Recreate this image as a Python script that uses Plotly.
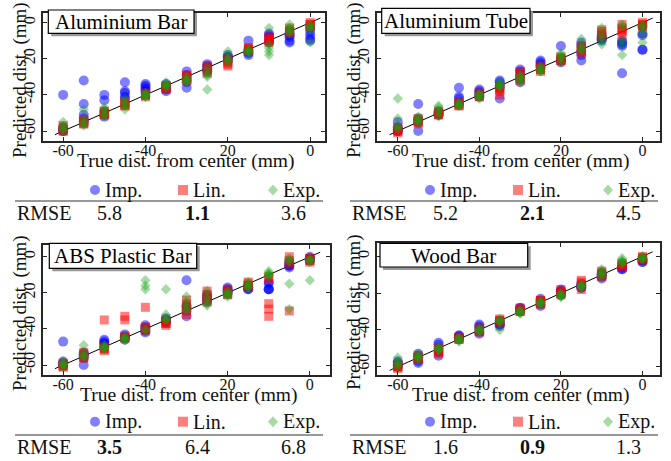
import plotly.graph_objects as go

# ---------------- data ----------------
positions = [-60, -55, -50, -45, -40, -35, -30, -25, -20, -15, -10, -5, 0]
x_tick_vals = [-60, -40, -20, 0]
x_tick_text = ["-60", "-40", "20", "0"]
y_tick_vals = [-60, -40, -20, 0]
y_tick_text = ["-60", "-40", "20", "0"]
method_names = ["Imp.", "Lin.", "Exp."]
panel_titles = ["Aluminium Bar", "Aluminium Tube", "ABS Plastic Bar", "Wood Bar"]
rmse_values = [["5.8", "1.1", "3.6"], ["5.2", "2.1", "4.5"],
               ["3.5", "6.4", "6.8"], ["1.6", "0.9", "1.3"]]
best_method = [1, 1, 0, 1]
ref_line = [-62, 2.5]

# Aluminium Bar
alu_bar_imp = [[-40, -58, -59, -60, -60], [-32, -45, -51, -53, -55], [-40, -43, -49, -51, -52],
               [-33, -38, -39, -41, -42], [-34, -35, -36, -37, -38], [-34, -35, -36, -37, -38],
               [-27, -29, -31, -33, -36], [-23, -24, -25, -26, -27], [-18, -19, -19, -20, -21],
               [-10, -15, -16, -17, -18], [-6, -7, -8, -10, -11], [-6, -7, -8, -10, -11],
               [-3, -5, -7, -9, -10]]
alu_bar_lin = [[-57, -58, -59, -60, -60], [-54, -55, -55, -56, -56], [-49, -50, -50, -51, -51],
               [-44, -45, -45, -46, -46], [-39, -40, -40, -40, -41], [-35, -35, -36, -36, -37],
               [-29, -30, -30, -31, -32], [-24, -25, -26, -27, -28], [-20, -21, -22, -23, -24],
               [-14, -14, -15, -15, -16], [-8, -9, -10, -10, -11], [-3, -4, -5, -5, -6],
               [0, -1, -1, -2, -2]]
alu_bar_exp = [[-55, -57, -58, -59, -60], [-48, -53, -55, -56, -57], [-47, -48, -50, -51, -52],
               [-42, -44, -45, -46, -48], [-39, -39, -40, -41, -41], [-33, -34, -35, -35, -36],
               [-30, -31, -32, -32, -33], [-25, -27, -29, -30, -37], [-16, -18, -20, -21, -22],
               [-15, -15, -16, -16, -17], [-3, -12, -14, -16, -18], [-1, -3, -4, -5, -6],
               [-1, -2, -3, -4, -11]]

# Aluminium Tube
alu_tube_imp = [[-55, -58, -59, -60, -60], [-45, -53, -54, -55, -60], [-49, -50, -50, -51, -51],
                [-36, -41, -42, -44, -45], [-37, -38, -39, -40, -41], [-32, -33, -35, -36, -42],
                [-26, -27, -29, -31, -33], [-21, -22, -23, -24, -25], [-13, -20, -21, -21, -22],
                [-11, -13, -16, -18, -21], [-7, -8, -9, -9, -10], [-10, -11, -12, -13, -28],
                [-2, -6, -7, -15, -15]]
alu_tube_lin = [[-58, -59, -60, -60, -61], [-53, -54, -55, -55, -56], [-49, -50, -50, -51, -51],
                [-44, -45, -45, -46, -46], [-39, -40, -40, -41, -41], [-35, -36, -37, -38, -40],
                [-27, -28, -30, -31, -32], [-24, -25, -26, -26, -27], [-19, -20, -20, -21, -21],
                [-13, -14, -15, -16, -17], [-4, -5, -6, -7, -8], [-1, -3, -4, -5, -7],
                [0, -1, -1, -2, -2]]
alu_tube_exp = [[-42, -53, -57, -58, -59], [-52, -53, -54, -55, -55], [-46, -47, -49, -50, -52],
                [-44, -45, -45, -46, -46], [-39, -40, -40, -41, -42], [-33, -34, -35, -35, -36],
                [-29, -30, -31, -32, -33], [-24, -25, -26, -27, -27], [-17, -18, -19, -20, -22],
                [-9, -12, -14, -15, -16], [-3, -6, -8, -10, -12], [-1, -2, -10, -12, -18],
                [-1, -2, -3, -6, -11]]

# ABS Plastic Bar
abs_bar_imp = [[-47, -58, -59, -60, -60], [-53, -54, -55, -56, -60], [-46, -47, -48, -48, -50],
               [-43, -44, -45, -45, -46], [-38, -39, -40, -41, -42], [-34, -35, -35, -36, -36],
               [-13, -27, -28, -30, -33], [-21, -22, -23, -24, -25], [-17, -18, -19, -19, -20],
               [-16, -17, -17, -18, -18], [-14, -15, -18, -18, -18], [-3, -4, -5, -5, -6],
               [0, -1, -1, -2, -2]]
abs_bar_lin = [[-59, -60, -60, -61, -61], [-53, -54, -55, -56, -56], [-35, -50, -51, -51, -52],
               [-33, -35, -44, -45, -45], [-28, -39, -40, -40, -41], [-35, -36, -37, -37, -38],
               [-24, -26, -28, -30, -32], [-19, -21, -23, -24, -25], [-18, -19, -20, -21, -21],
               [-14, -15, -16, -16, -17], [-11, -12, -26, -29, -33], [0, -2, -3, -4, -30],
               [-1, -1, -2, -2, -3]]
abs_bar_exp = [[-58, -59, -60, -60, -61], [-49, -53, -55, -55, -56], [-49, -50, -50, -51, -51],
               [-44, -45, -45, -46, -46], [-13, -16, -18, -40, -41], [-18, -32, -34, -35, -35],
               [-22, -25, -27, -29, -30], [-19, -22, -24, -26, -27], [-19, -20, -21, -21, -22],
               [-14, -15, -16, -17, -17], [-8, -9, -10, -10, -11], [-1, -2, -3, -15, -29],
               [-1, -2, -2, -3, -13]]

# Wood Bar
wood_bar_imp = [[-57, -58, -59, -59, -60], [-53, -54, -55, -57, -58], [-47, -48, -50, -52, -54],
                [-43, -43, -44, -44, -45], [-37, -38, -39, -41, -42], [-35, -36, -37, -37, -38],
                [-28, -28, -29, -29, -30], [-23, -24, -25, -26, -27], [-18, -19, -19, -20, -21],
                [-15, -16, -16, -17, -17], [-9, -10, -10, -11, -12], [-5, -6, -6, -7, -7],
                [-1, -2, -2, -3, -3]]
wood_bar_lin = [[-59, -60, -60, -60, -61], [-54, -55, -55, -56, -56], [-50, -51, -51, -52, -53],
                [-44, -44, -45, -45, -45], [-39, -40, -40, -41, -41], [-34, -35, -35, -35, -36],
                [-28, -29, -29, -30, -30], [-24, -24, -25, -25, -26], [-18, -19, -20, -20, -21],
                [-13, -14, -15, -16, -18], [-8, -9, -10, -10, -11], [-4, -4, -5, -5, -6],
                [0, -1, -1, -1, -2]]
wood_bar_exp = [[-55, -57, -58, -59, -60], [-53, -54, -55, -55, -56], [-49, -50, -50, -51, -51],
                [-44, -45, -45, -46, -46], [-39, -40, -40, -41, -41], [-34, -35, -35, -36, -40],
                [-29, -30, -30, -31, -31], [-24, -25, -25, -26, -26], [-20, -21, -21, -22, -22],
                [-15, -16, -16, -17, -17], [-7, -8, -9, -10, -11], [-1, -2, -3, -3, -4],
                [0, 0, -1, -1, -2]]

panel_data = [
    [alu_bar_imp, alu_bar_lin, alu_bar_exp],
    [alu_tube_imp, alu_tube_lin, alu_tube_exp],
    [abs_bar_imp, abs_bar_lin, abs_bar_exp],
    [wood_bar_imp, wood_bar_lin, wood_bar_exp],
]

# ---------------- styling / layout ----------------
W, H = 671, 461
FONT = "Liberation Serif, Times New Roman, serif"
INK = "#111111"
AXC = "#262626"
method_colors = ["rgba(0,0,255,0.5)", "rgba(255,0,0,0.5)", "rgba(20,160,20,0.38)"]
method_symbols = ["circle", "square", "diamond"]
method_sizes = [10, 9, 8]


def fx(x):
    return x / W


def fy(y):
    return 1 - y / H


panels = [
    dict(x0=43, x1=325, y0=13, y1=141, xr=[-64.9, 3.6], yr=[-65.5, 5.3], ox=0,
         legy=190, ruley=201, rmsey=213, box=(48.3, 10, 194, 33.3)),
    dict(x0=377, x1=660, y0=13, y1=141, xr=[-65.1, 4.3], yr=[-65.5, 5.3], ox=335,
         legy=190, ruley=201, rmsey=213, box=(381.7, 8.3, 530, 33.3)),
    dict(x0=43, x1=330, y0=245, y1=375, xr=[-64.9, 4.9], yr=[-65.5, 6.5], ox=0,
         legy=421.7, ruley=435, rmsey=447, box=(49.3, 243.3, 196.7, 268.3)),
    dict(x0=377, x1=660, y0=243, y1=375, xr=[-65.1, 4.3], yr=[-64.5, 7.3], ox=335,
         legy=421.7, ruley=435, rmsey=447, box=(380, 243.3, 527.7, 267)),
]

fig = go.Figure()
shapes = []
annotations = []

for i, p in enumerate(panels):
    xa = "x" if i == 0 else f"x{i+1}"
    ya = "y" if i == 0 else f"y{i+1}"
    # reference diagonal
    fig.add_trace(go.Scatter(x=ref_line, y=ref_line, mode="lines",
                             line=dict(color="black", width=1),
                             xaxis=xa, yaxis=ya, showlegend=False, hoverinfo="skip"))
    for m in range(3):
        series = panel_data[i][m]
        xs, ys = [], []
        for pos, trials in zip(positions, series):
            for v in trials:
                xs.append(pos)
                ys.append(v)
        fig.add_trace(go.Scatter(
            x=xs, y=ys, mode="markers", name=method_names[m],
            marker=dict(symbol=method_symbols[m], size=method_sizes[m],
                        color=method_colors[m], line=dict(width=0)),
            xaxis=xa, yaxis=ya, showlegend=False))

    axis_common = dict(showgrid=False, zeroline=False, showline=True, linecolor=AXC,
                       linewidth=1.5, mirror="allticks", ticks="inside", ticklen=4,
                       tickwidth=1.2, tickcolor=AXC, fixedrange=True,
                       tickfont=dict(family=FONT, size=16, color=INK))
    key_x = "xaxis" if i == 0 else f"xaxis{i+1}"
    key_y = "yaxis" if i == 0 else f"yaxis{i+1}"
    fig.layout[key_x] = dict(axis_common, domain=[fx(p["x0"]), fx(p["x1"])],
                             range=p["xr"], anchor=ya, tickmode="array",
                             tickvals=x_tick_vals, ticktext=x_tick_text,
                             ticklabelstandoff=-6)
    fig.layout[key_y] = dict(axis_common, domain=[fy(p["y1"]), fy(p["y0"])],
                             range=p["yr"], anchor=xa, tickmode="array",
                             tickvals=y_tick_vals, ticktext=y_tick_text, tickangle=-90,
                             ticklabelstandoff=0)

    # axis titles
    annotations.append(dict(text="True dist. from center (mm)", xref="paper", yref="paper",
                            x=fx((p["x0"] + p["x1"]) / 2 + 2), y=fy(p["y1"] + 20),
                            xanchor="center", yanchor="middle", showarrow=False,
                            font=dict(family=FONT, size=19.5, color=INK)))
    annotations.append(dict(text="Predicted dist. (mm)", xref="paper", yref="paper",
                            x=fx(p["x0"] - 23), y=fy((p["y0"] + p["y1"]) / 2 + 3),
                            xanchor="center", yanchor="middle", showarrow=False, textangle=-90,
                            font=dict(family=FONT, size=19, color=INK)))

    # title box with shadow
    bx0, by0, bx1, by1 = p["box"]
    shapes.append(dict(type="rect", xref="paper", yref="paper",
                       x0=fx(bx0 + 3), x1=fx(bx1 + 3), y0=fy(by1 + 3), y1=fy(by0 + 3),
                       fillcolor="#999999", line=dict(width=0), layer="above"))
    shapes.append(dict(type="rect", xref="paper", yref="paper",
                       x0=fx(bx0), x1=fx(bx1), y0=fy(by1), y1=fy(by0),
                       fillcolor="white", line=dict(color="black", width=1.2), layer="above"))
    annotations.append(dict(text=panel_titles[i], xref="paper", yref="paper",
                            x=fx((bx0 + bx1) / 2), y=fy((by0 + by1) / 2 + 0.5),
                            xanchor="center", yanchor="middle", showarrow=False,
                            font=dict(family=FONT, size=21, color="black")))

    # legend row
    ox = p["ox"]
    ly = p["legy"]
    mk = [95, 183, 273]
    tx = [103, 191, 281]
    r = 5
    shapes.append(dict(type="circle", xref="paper", yref="paper",
                       x0=fx(ox + mk[0] - r), x1=fx(ox + mk[0] + r),
                       y0=fy(ly + r), y1=fy(ly - r),
                       fillcolor=method_colors[0], line=dict(width=0)))
    shapes.append(dict(type="rect", xref="paper", yref="paper",
                       x0=fx(ox + mk[1] - r), x1=fx(ox + mk[1] + r),
                       y0=fy(ly + r), y1=fy(ly - r),
                       fillcolor=method_colors[1], line=dict(width=0)))
    cx = ox + mk[2]
    path = (f"M {fx(cx)},{fy(ly - 5.5)} L {fx(cx + 5)},{fy(ly)} "
            f"L {fx(cx)},{fy(ly + 5.5)} L {fx(cx - 5)},{fy(ly)} Z")
    shapes.append(dict(type="path", xref="paper", yref="paper", path=path,
                       fillcolor=method_colors[2], line=dict(width=0)))
    for m in range(3):
        annotations.append(dict(text=method_names[m], xref="paper", yref="paper",
                                x=fx(ox + tx[m]), y=fy(ly), xanchor="left", yanchor="middle",
                                showarrow=False, font=dict(family=FONT, size=20, color=INK)))

    # rule and RMSE row
    shapes.append(dict(type="line", xref="paper", yref="paper",
                       x0=fx(ox + 15), x1=fx(ox + 323), y0=fy(p["ruley"]), y1=fy(p["ruley"]),
                       line=dict(color="#333333", width=1.2)))
    annotations.append(dict(text="RMSE", xref="paper", yref="paper",
                            x=fx(ox + 15), y=fy(p["rmsey"]), xanchor="left", yanchor="middle",
                            showarrow=False, font=dict(family=FONT, size=20, color=INK)))
    cols = [110, 197, 293]
    for m in range(3):
        val = rmse_values[i][m]
        txt = f"<b>{val}</b>" if m == best_method[i] else val
        annotations.append(dict(text=txt, xref="paper", yref="paper",
                                x=fx(ox + cols[m]), y=fy(p["rmsey"]), xanchor="center",
                                yanchor="middle", showarrow=False,
                                font=dict(family=FONT, size=20, color=INK)))

fig.update_layout(width=W, height=H, autosize=False,
                  margin=dict(l=0, r=0, t=0, b=0, pad=0),
                  paper_bgcolor="white", plot_bgcolor="white",
                  showlegend=False, shapes=shapes, annotations=annotations,
                  font=dict(family=FONT, color=INK))

# remove the browser's default page margin so the figure sits at the window origin
fig.write_html("out.html", config={"displayModeBar": False},
               post_script="document.body.style.margin='0px';")
